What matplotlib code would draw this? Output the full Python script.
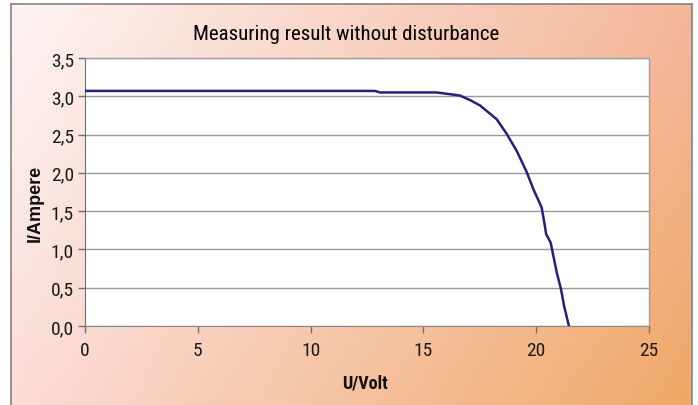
import numpy as np
import matplotlib
matplotlib.use("Agg")
import matplotlib.pyplot as plt
from matplotlib.ticker import FixedLocator, FixedFormatter
from matplotlib import font_manager

# Data
voltage = [0.0, 5.0, 10.0, 12.85, 13.08, 15.59, 16.62, 17.07, 17.51, 18.25, 18.69,
           19.13, 19.58, 19.87, 20.24, 20.36, 20.44, 20.64, 20.73, 20.91, 21.10,
           21.23, 21.45]
current = [3.07, 3.07, 3.07, 3.07, 3.05, 3.05, 3.01, 2.95, 2.88, 2.70, 2.51,
           2.29, 2.01, 1.79, 1.55, 1.35, 1.20, 1.09, 0.96, 0.70, 0.48,
           0.27, 0.0]
x_ticks = [0, 5, 10, 15, 20, 25]
y_ticks = [0.0, 0.5, 1.0, 1.5, 2.0, 2.5, 3.0, 3.5]
y_tick_labels = ["0,0", "0,5", "1,0", "1,5", "2,0", "2,5", "3,0", "3,5"]
title = "Measuring result without disturbance"
xlabel = "U/Volt"
ylabel = "I/Ampere"

names = {f.name for f in font_manager.fontManager.ttflist}
prefs = ["Liberation Sans Narrow", "Arial Narrow", "Roboto Condensed", "PT Sans Narrow",
         "Archivo Narrow", "Open Sans Condensed", "IBM Plex Sans Condensed"]
narrow_name = next((p for p in prefs if p in names), "Liberation Sans")
is_narrow = narrow_name != "Liberation Sans"
narrow = [narrow_name, "DejaVu Sans"]
plain = ["Liberation Sans", "DejaVu Sans"]

W, H = 698, 406
fig = plt.figure(figsize=(W / 100, H / 100), dpi=100)
fig.patch.set_facecolor("white")

# gradient background panel
bg = fig.add_axes([11 / W, 0, (692 - 11) / W, (H - 5) / H])
nx, ny = 200, 120
u = np.linspace(0, 1, nx)[None, :, None]
v = np.linspace(0, 1, ny)[:, None, None]  # 0 top, 1 bottom
tl = np.array([0xfd, 0xf4, 0xf3]) / 255
tr = np.array([0xf5, 0xb7, 0x9c]) / 255
bl = np.array([0xfb, 0xdc, 0xd8]) / 255
br = np.array([0xf0, 0xa8, 0x66]) / 255
img = (1 - u) * (1 - v) * tl + u * (1 - v) * tr + (1 - u) * v * bl + u * v * br
bg.imshow(img, aspect="auto", extent=[0, 1, 0, 1], interpolation="bilinear")
bg.set_xticks([])
bg.set_yticks([])
for s in bg.spines.values():
    s.set_color("#8a8080")
    s.set_linewidth(1.2)
bg.spines["bottom"].set_visible(False)

ax = fig.add_axes([85 / W, 1 - 327 / H, (649 - 85) / W, (327 - 59) / H])
ax.set_facecolor("white")
ax.plot(voltage, current, color="#282078", linewidth=1.8, zorder=3)
ax.set_xlim(0, 25)
ax.set_ylim(0, 3.5)
ax.xaxis.set_major_locator(FixedLocator(x_ticks))
ax.yaxis.set_major_locator(FixedLocator(y_ticks))
ax.yaxis.set_major_formatter(FixedFormatter(y_tick_labels))
ax.grid(axis="y", color="#9a9a9a", linewidth=1.0)
ax.set_axisbelow(True)
for s in ["top", "right"]:
    ax.spines[s].set_color("#a0a0a0")
    ax.spines[s].set_linewidth(1.0)
ax.spines["left"].set_color("#707070")
ax.spines["bottom"].set_color("#8a8a8a")
ax.tick_params(axis="both", direction="out", length=5, width=1, color="#707070",
               labelsize=14 if is_narrow else 12, labelcolor="#1a1a1a", pad=3)
ax.tick_params(axis="x", pad=6)
for lab in ax.get_xticklabels() + ax.get_yticklabels():
    lab.set_family(narrow)

fig.text(346 / W, 1 - 35 / H, title, ha="center", va="center",
         fontsize=15 if is_narrow else 13, family=narrow, fontweight="normal",
         color="#000000")
fig.text(365 / W, 1 - 384 / H, xlabel, ha="center", va="center",
         fontsize=13 if is_narrow else 11, family=narrow, fontweight="bold", color="#111111")
fig.text(35 / W, 1 - 203 / H, ylabel, ha="center", va="center", fontsize=13,
         rotation=90, family=plain, fontweight="bold", color="#111111")

fig.savefig("out.png", dpi=100)
